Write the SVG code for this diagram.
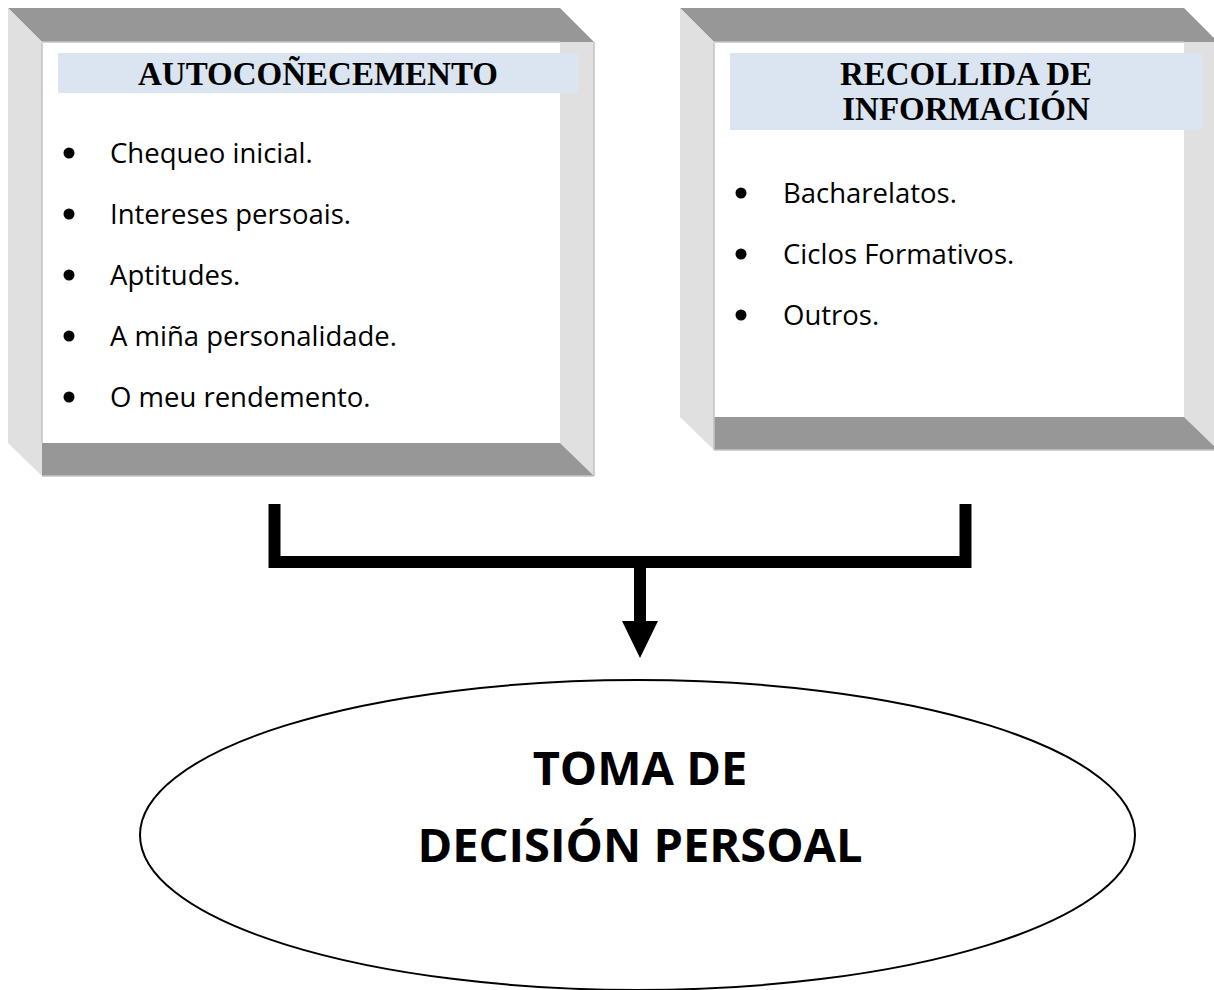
<svg xmlns="http://www.w3.org/2000/svg" width="1214" height="990" viewBox="0 0 1214 990">
<style>
.band{fill:#979797}
.side{fill:#e0e0e0}
.front{fill:#ffffff}
.edge{fill:none;stroke:#c4c4c4;stroke-width:1.5}
.hdr{fill:#dbe5f1}
.htxt{font-family:"Liberation Serif","Times New Roman",serif;font-weight:bold;font-size:33px;fill:#000;text-anchor:middle}
.item{font-family:"Open Sans","Liberation Sans",sans-serif;font-size:27.5px;fill:#000}
.dot{fill:#000}
.conn{fill:none;stroke:#000;stroke-width:12}
.etxt{font-family:"Open Sans","Liberation Sans",sans-serif;font-weight:bold;font-size:47px;fill:#000;text-anchor:middle}
</style>
<defs>
<marker id="ah" markerUnits="userSpaceOnUse" markerWidth="38" markerHeight="38" refX="0" refY="19" orient="auto" viewBox="0 0 38 38">
<path d="M0,1 L37,19 L0,37 Z" fill="#000"/>
</marker>
</defs>
<rect width="1214" height="990" fill="#fff"/>

<g id="autoconecemento">
<polygon class="band" points="8,8 560,8 594,42 42,42"/>
<polygon class="side" points="8,8 42,42 42,476 8,443"/>
<polygon class="side" points="560,42 594,42 594,476 560,443"/>
<polygon class="band" points="42,443 560,443 594,476 42,476"/>
<rect class="front" x="42" y="42" width="518" height="401"/>
<path class="edge" d="M42,42 H560 M42,43 V443 M42,476 H594 M594,42 V476"/>
<rect class="hdr" x="58" y="53" width="520" height="40"/>
<text class="htxt" x="318" y="85">AUTOCOÑECEMENTO</text>
<circle class="dot" cx="69" cy="153" r="5.5"/>
<text class="item" x="110" y="163">Chequeo inicial.</text>
<circle class="dot" cx="69" cy="214" r="5.5"/>
<text class="item" x="110" y="224">Intereses persoais.</text>
<circle class="dot" cx="69" cy="275" r="5.5"/>
<text class="item" x="110" y="285">Aptitudes.</text>
<circle class="dot" cx="69" cy="336" r="5.5"/>
<text class="item" x="110" y="346">A miña personalidade.</text>
<circle class="dot" cx="69" cy="397" r="5.5"/>
<text class="item" x="110" y="407">O meu rendemento.</text>
</g>

<g id="recollida">
<polygon class="band" points="680,8 1184,8 1218,42 714,42"/>
<polygon class="side" points="680,8 714,42 714,450 680,417"/>
<polygon class="side" points="1184,42 1218,42 1218,450 1184,417"/>
<polygon class="band" points="714,417 1184,417 1218,450 714,450"/>
<rect class="front" x="714" y="42" width="470" height="375"/>
<path class="edge" d="M714,42 H1184 M714,43 V450 M714,450 H1218"/>
<rect class="hdr" x="730" y="53" width="472" height="77"/>
<text class="htxt" x="966" y="85">RECOLLIDA DE</text>
<text class="htxt" x="966" y="120">INFORMACIÓN</text>
<circle class="dot" cx="741" cy="193" r="5.5"/>
<text class="item" x="783" y="203">Bacharelatos.</text>
<circle class="dot" cx="741" cy="254" r="5.5"/>
<text class="item" x="783" y="264">Ciclos Formativos.</text>
<circle class="dot" cx="741" cy="315" r="5.5"/>
<text class="item" x="783" y="325">Outros.</text>
</g>

<g id="connectors">
<path class="conn" d="M274.5,504 V562 H965.5 V504"/>
<path class="conn" d="M640,567 V621" marker-end="url(#ah)"/>
</g>

<g id="decision">
<ellipse cx="637.5" cy="835" rx="497.5" ry="155" fill="#fff" stroke="#000" stroke-width="2"/>
<text class="etxt" x="640" y="785">TOMA DE</text>
<text class="etxt" x="640" y="862">DECISIÓN PERSOAL</text>
</g>
</svg>
